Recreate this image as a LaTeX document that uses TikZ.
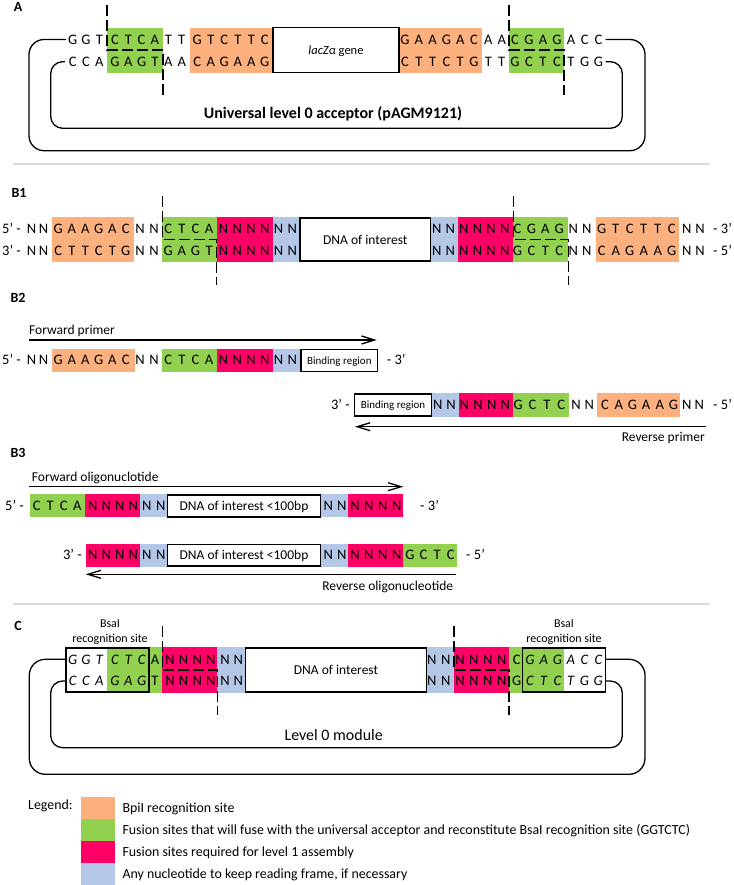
\documentclass[tikz,border=0pt]{standalone}
\usepackage{fontspec}
\setmainfont{Carlito}
\usetikzlibrary{arrows.meta}
\definecolor{cO}{HTML}{FBB07D}
\definecolor{cG}{HTML}{92D050}
\definecolor{cR}{HTML}{FF0066}
\definecolor{cB}{HTML}{B4C7E7}
\definecolor{cS}{HTML}{D9D9D9}
\newcommand\seqrow[5][lt]{\foreach \c [count=\i from 0] in {#5}{\node[#1] at ({#2+\i*#4},#3) {\c};}}
\begin{document}
\begin{tikzpicture}[x=1pt,y=-1pt,
 lt/.style={inner sep=0pt,font=\fontsize{14.5}{16}\selectfont,text height=9.2pt,text depth=0pt},
 li/.style={inner sep=0pt,font=\fontsize{14.5}{16}\selectfont\itshape,text height=9.2pt,text depth=0pt},
 lab/.style={inner sep=0pt,font=\fontsize{14}{16}\selectfont\bfseries,text height=8.9pt,text depth=0pt},
 tx/.style={inner sep=0pt,font=\fontsize{13.5}{15}\selectfont,text height=8.7pt,text depth=0pt},
 sm/.style={inner sep=0pt,font=\fontsize{11}{13}\selectfont,text height=7.1pt,text depth=0pt},
 rs/.style={inner sep=0pt,font=\fontsize{12}{13}\selectfont,text height=7.7pt,text depth=0pt},
 lg/.style={inner sep=0pt,font=\fontsize{13.9}{15}\selectfont,text height=8.9pt,text depth=0pt,anchor=west},
 cut/.style={line width=1.3pt,dash pattern=on 11pt off 4pt},
 bb/.style={line width=1.3pt},
 boxl/.style={line width=1.5pt},
 arr/.style={line width=1.3pt,-{Straight Barb[length=13pt,width=8pt,line width=1.3pt]}},
 sepl/.style={line width=1.5pt,draw=cS}]
\useasboundingbox (0,0) rectangle (733,885);
% ================= Panel A =================
\node[lab] (lA) at (18,7) {A};
\fill[cG] (107,28) rectangle (163,73);
\fill[cO] (190,28) rectangle (272,73);
\fill[cO] (399,28) rectangle (482,73);
\fill[cG] (509,28) rectangle (564,73);
\draw[boxl] (273,27.5) rectangle (399,72.5);
\node[tx,font=\fontsize{12.5}{14}\selectfont] (lacz) at (336,50) {\textit{lacZα} gene};
\seqrow{72.7}{40}{13.3}{G,G,T}
\seqrow{115}{40}{13.3}{C,T,C,A}
\seqrow{168.3}{40}{13.4}{T,T}
\seqrow{197.3}{40}{13.5}{G,T,C,T,T,C}
\seqrow{405}{40}{13.8}{G,A,A,G,A,C}
\seqrow{488.3}{40}{13.4}{A,A}
\seqrow{515}{40}{14}{C,G,A,G}
\seqrow{571}{40}{13.7}{A,C,C}
\seqrow{72.7}{62}{13.3}{C,C,A}
\seqrow{115}{62}{13.3}{G,A,G,T}
\seqrow{168.3}{62}{13.4}{A,A}
\seqrow{197.3}{62}{13.5}{C,A,G,A,A,G}
\seqrow{405}{62}{13.8}{C,T,T,C,T,G}
\seqrow{488.3}{62}{13.4}{T,T}
\seqrow{515}{62}{14}{G,C,T,C}
\seqrow{571}{62}{13.7}{T,G,G}
\draw[cut] (107,5) -- (107,50) -- (163,50) -- (163,95);
\draw[cut] (509,5) -- (509,50) -- (564,50) -- (564,95);
\coordinate (a1) at (66,39.5);
\coordinate (a2) at (605.7,39.5);
\coordinate (a3) at (65,61.7);
\coordinate (a4) at (605.7,61.7);
\draw[bb,rounded corners=15pt] (a1) -| (29,150.7) -| (645,39.5) -- (a2);
\draw[bb,rounded corners=12pt] (a3) -| (50.7,128.3) -| (622.3,61.7) -- (a4);
\node[inner sep=0pt,font=\fontsize{16}{18}\selectfont\bfseries,text height=10.2pt,text depth=0pt] (tA) at (333,113.3) {Universal level 0 acceptor (pAGM9121)};
\draw[sepl] (13,164) -- (709,164);
% ================= Panel B1 =================
\node[lab] (lB1) at (19,193) {B1};
\fill[cO] (51.7,217.3) rectangle (134.3,261.7);
\fill[cG] (162.3,217.3) rectangle (216.7,261.7);
\fill[cR] (216.7,217.3) rectangle (272.7,261.7);
\fill[cB] (272.7,217.3) rectangle (300,261.7);
\fill[cB] (430.7,217.3) rectangle (458.3,261.7);
\fill[cR] (458.3,217.3) rectangle (513.3,261.7);
\fill[cG] (513.3,217.3) rectangle (568.3,261.7);
\fill[cO] (596,217.3) rectangle (679,261.7);
\draw[boxl] (300,217.8) rectangle (430.7,261.2);
\node[tx] (dB1) at (365.3,240) {DNA of interest};
\node[lt,anchor=west] (p5a) at (2,229) {5’ -};
\node[lt,anchor=west] (p3a) at (2,251) {3’ -};
\seqrow{31.5}{229}{12}{N,N}
\seqrow{58.3}{229}{13.5}{G,A,A,G,A,C}
\seqrow{140}{229}{14}{N,N}
\seqrow{168.3}{229}{13.6}{C,T,C,A}
\seqrow{223.5}{229}{13.75}{N,N,N,N,N,N}
\seqrow{436.7}{229}{13.6}{N,N,N,N,N,N}
\seqrow{517.5}{229}{13.9}{C,G,A,G}
\seqrow{573.3}{229}{13.4}{N,N}
\seqrow{601.7}{229}{14}{G,T,C,T,T,C}
\seqrow{686.7}{229}{13.4}{N,N}
\node[lt,anchor=west] (p3b) at (713,229) {- 3’};
\seqrow{31.5}{251}{12}{N,N}
\seqrow{58.3}{251}{13.5}{C,T,T,C,T,G}
\seqrow{140}{251}{14}{N,N}
\seqrow{168.3}{251}{13.6}{G,A,G,T}
\seqrow{223.5}{251}{13.75}{N,N,N,N,N,N}
\seqrow{436.7}{251}{13.6}{N,N,N,N,N,N}
\seqrow{517.5}{251}{13.9}{G,C,T,C}
\seqrow{573.3}{251}{13.4}{N,N}
\seqrow{601.7}{251}{14}{C,A,G,A,A,G}
\seqrow{686.7}{251}{13.4}{N,N}
\node[lt,anchor=west] (p5b) at (713,251) {- 5’};
\draw[cut] (162.3,196) -- (162.3,239.5) -- (216.7,239.5) -- (216.7,285);
\draw[cut] (513.3,196) -- (513.3,239.5) -- (568.3,239.5) -- (568.3,285);
% ================= Panel B2 =================
\node[lab] (lB2) at (18,298) {B2};
\node[tx,anchor=west] (fp) at (29,330) {Forward primer};
\coordinate (f1) at (29.3,340);
\coordinate (f2) at (376.7,340);
\draw[arr] (f1) -- (f2);
\fill[cO] (51.7,349) rectangle (135,371.5);
\fill[cG] (162.3,349) rectangle (217.3,371.5);
\fill[cR] (217.3,349) rectangle (272.7,371.5);
\fill[cB] (272.7,349) rectangle (301,371.5);
\draw[boxl] (301,349.5) rectangle (377.7,371.5);
\node[sm] (br1) at (339.3,360.5) {Binding region};
\node[lt,anchor=west] (q5) at (2,360) {5’ -};
\seqrow{31.5}{360}{12}{N,N}
\seqrow{58.3}{360}{13.5}{G,A,A,G,A,C}
\seqrow{140}{360}{14}{N,N}
\seqrow{168.3}{360}{13.6}{C,T,C,A}
\seqrow{223.5}{360}{13.75}{N,N,N,N,N,N}
\node[lt,anchor=west] (q3) at (386.7,360) {- 3’};
% reverse
\fill[cB] (431.7,393.3) rectangle (459.3,416.7);
\fill[cR] (459.3,393.3) rectangle (513.3,416.7);
\fill[cG] (513.3,393.3) rectangle (569.3,416.7);
\fill[cO] (596.7,393.3) rectangle (680,416.7);
\draw[boxl] (354.3,393.8) rectangle (431.7,416.2);
\node[sm] (br2) at (393,405.3) {Binding region};
\node[lt,anchor=east] (r3) at (350,405) {3’ -};
\seqrow{437.7}{405}{13.3}{N,N}
\seqrow{464.3}{405}{13.7}{N,N,N,N}
\seqrow{518.3}{405}{14.3}{G,C,T,C}
\seqrow{576}{405}{13.3}{N,N}
\seqrow{605}{405}{13.7}{C,A,G,A,A,G}
\seqrow{686.7}{405}{12.6}{N,N}
\node[lt,anchor=west] (r5) at (713,405) {- 5’};
\coordinate (g1) at (706,426.7);
\coordinate (g2) at (355,426.7);
\draw[arr] (g1) -- (g2);
\node[tx,anchor=east] (rp) at (705,436.7) {Reverse primer};
% ================= Panel B3 =================
\node[lab] (lB3) at (18,453) {B3};
\node[tx,anchor=west] (fo) at (31.7,477.3) {Forward oligonuclotide};
\coordinate (h1) at (29.3,486.7);
\coordinate (h2) at (403.3,486.7);
\draw[arr] (h1) -- (h2);
\fill[cG] (30,494.3) rectangle (85,517.3);
\fill[cR] (85,494.3) rectangle (140,517.3);
\fill[cB] (140,494.3) rectangle (167.3,517.3);
\fill[cB] (320.7,494.3) rectangle (348.3,517.3);
\fill[cR] (348.3,494.3) rectangle (403.3,517.3);
\draw[boxl] (167.3,494.8) rectangle (320.7,516.8);
\node[tx] (d3a) at (244,506) {DNA of interest <100bp};
\node[lt,anchor=west] (s5) at (5,506) {5’ -};
\seqrow{36.7}{506}{13.5}{C,T,C,A}
\seqrow{92.7}{506}{13.5}{N,N,N,N}
\seqrow{146.7}{506}{14}{N,N}
\seqrow{328.3}{506}{13.4}{N,N}
\seqrow{355}{506}{13.9}{N,N,N,N}
\node[lt,anchor=west] (s3) at (420,506) {- 3’};
\fill[cR] (85.7,544) rectangle (140,566.7);
\fill[cB] (140,544) rectangle (167.3,566.7);
\fill[cB] (320.7,544) rectangle (348.3,566.7);
\fill[cR] (348.3,544) rectangle (403.3,566.7);
\fill[cG] (403.3,544) rectangle (457.3,566.7);
\draw[boxl] (167.3,544.5) rectangle (320.7,566.2);
\node[tx] (d3b) at (244,555.3) {DNA of interest <100bp};
\node[lt,anchor=east] (t3) at (82,555) {3’ -};
\seqrow{92.7}{555}{13.5}{N,N,N,N}
\seqrow{146.7}{555}{14}{N,N}
\seqrow{328.3}{555}{13.4}{N,N}
\seqrow{355}{555}{13.9}{N,N,N,N}
\seqrow{410}{555}{13.6}{G,C,T,C}
\node[lt,anchor=west] (t5) at (466,555) {- 5’};
\coordinate (k1) at (456,574.3);
\coordinate (k2) at (85.7,574.3);
\draw[arr] (k1) -- (k2);
\node[tx,anchor=east] (ro) at (453.3,586) {Reverse oligonucleotide};
\draw[sepl] (13,604) -- (709,604);
% ================= Panel C =================
\node[lab] (lC) at (18,626) {C};
\node[rs] (bs1) at (110,623.3) {BsaI};
\node[rs] (rc1) at (110,638.3) {recognition site};
\node[rs] (bs2) at (564,623.3) {BsaI};
\node[rs] (rc2) at (564,638.3) {recognition site};
\fill[cG] (107.3,647.3) rectangle (162.3,692.7);
\fill[cR] (162.3,647.3) rectangle (217.3,692.7);
\fill[cB] (217.3,647.3) rectangle (245.7,692.7);
\fill[cB] (426.7,647.3) rectangle (454,692.7);
\fill[cR] (454,647.3) rectangle (509,692.7);
\fill[cG] (509,647.3) rectangle (564,692.7);
\draw[boxl] (66,647.8) rectangle (149,692.2);
\draw[boxl] (522.3,647.8) rectangle (605.7,692.2);
\draw[boxl] (245.7,647.8) rectangle (426.7,692.2);
\node[tx] (dC) at (336,670) {DNA of interest};
\seqrow[li]{72.7}{660}{13.3}{G,G,T}
\seqrow[li]{115}{660}{13.3}{C,T,C}
\seqrow{155}{660}{13}{A}
\seqrow{170}{660}{13.6}{N,N,N,N}
\seqrow{225}{660}{13.3}{N,N}
\seqrow{431.7}{660}{14}{N,N}
\seqrow{460}{660}{13.9}{N,N,N,N}
\seqrow{516.7}{660}{13}{C}
\seqrow[li]{530}{660}{13.7}{G,A,G}
\seqrow[li]{570.7}{660}{13.8}{A,C,C}
\seqrow[li]{72.7}{681}{13.3}{C,C,A}
\seqrow[li]{115}{681}{13.3}{G,A,G}
\seqrow{155}{681}{13}{T}
\seqrow{170}{681}{13.6}{N,N,N,N}
\seqrow{225}{681}{13.3}{N,N}
\seqrow{431.7}{681}{14}{N,N}
\seqrow{460}{681}{13.9}{N,N,N,N}
\seqrow{516.7}{681}{13}{G}
\seqrow[li]{530}{681}{13.7}{C,T,C}
\seqrow[li]{570.7}{681}{13.8}{T,G,G}
\draw[cut] (162.3,626) -- (162.3,670) -- (217.3,670) -- (217.3,715);
\draw[cut] (454,626) -- (454,670) -- (509,670) -- (509,715);
\coordinate (c1) at (66,659.3);
\coordinate (c2) at (605.7,659.3);
\coordinate (c3) at (66,681);
\coordinate (c4) at (605.7,681);
\draw[bb,rounded corners=16pt] (c1) -| (29.3,774.3) -| (645,659.3) -- (c2);
\draw[bb,rounded corners=12pt] (c3) -| (50.7,747.7) -| (622.3,681) -- (c4);
\node[inner sep=0pt,font=\fontsize{16}{18}\selectfont,text height=10.3pt,text depth=0pt] (tC) at (333.7,735) {Level 0 module};
% ================= Legend =================
\node[lg] (lgt) at (28,805) {Legend:};
\fill[cO] (80.5,797) rectangle (115,819);
\fill[cG] (80.5,819) rectangle (115,840.7);
\fill[cR] (80.5,840.7) rectangle (115,862.7);
\fill[cB] (80.5,862.7) rectangle (115,885);
\node[lg] (lg1) at (122.3,808.3) {BpiI recognition site};
\node[lg] (lg2) at (122.3,830.5) {Fusion sites that will fuse with the universal acceptor and reconstitute BsaI recognition site (GGTCTC)};
\node[lg] (lg3) at (122.3,851.7) {Fusion sites required for level 1 assembly};
\node[lg] (lg4) at (122.3,874) {Any nucleotide to keep reading frame, if necessary};
\end{tikzpicture}
\end{document}
